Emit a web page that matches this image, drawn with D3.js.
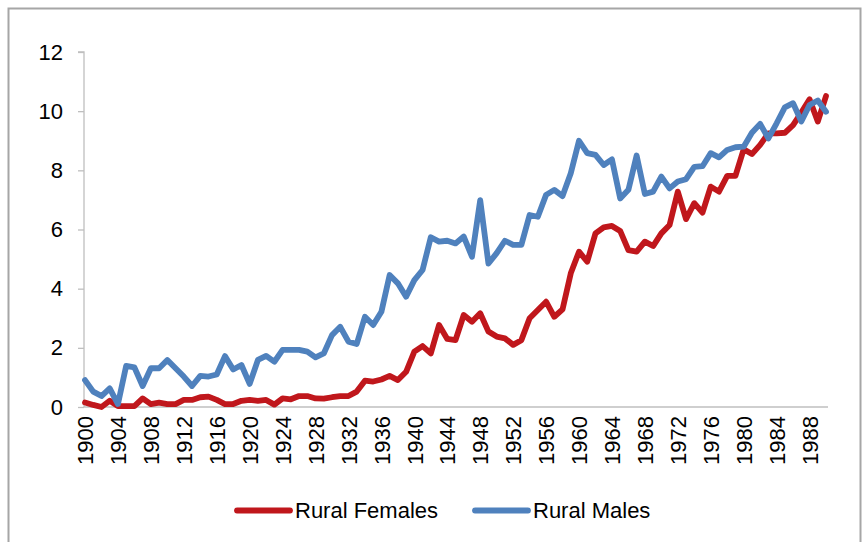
<!DOCTYPE html>
<html>
<head>
<meta charset="utf-8">
<script src="https://cdn.jsdelivr.net/npm/d3@7"></script>
<style>
  html, body { margin: 0; padding: 0; background: #fff; }
  svg { display: block; font-family: "Liberation Sans", Arial, sans-serif; }
</style>
</head>
<body>
<svg id="chart" width="862" height="542"></svg>
<script>
const years = [
  1900,1901,1902,1903,1904,1905,1906,1907,1908,1909,
  1910,1911,1912,1913,1914,1915,1916,1917,1918,1919,
  1920,1921,1922,1923,1924,1925,1926,1927,1928,1929,
  1930,1931,1932,1933,1934,1935,1936,1937,1938,1939,
  1940,1941,1942,1943,1944,1945,1946,1947,1948,1949,
  1950,1951,1952,1953,1954,1955,1956,1957,1958,1959,
  1960,1961,1962,1963,1964,1965,1966,1967,1968,1969,
  1970,1971,1972,1973,1974,1975,1976,1977,1978,1979,
  1980,1981,1982,1983,1984,1985,1986,1987,1988,1989,
  1990
];
const ruralFemales = [
  0.15,0.07,0.00,0.21,0.03,0.03,0.03,0.29,0.10,0.15,
  0.10,0.10,0.24,0.24,0.33,0.35,0.24,0.10,0.10,0.21,
  0.24,0.21,0.24,0.08,0.29,0.26,0.37,0.37,0.29,0.28,
  0.33,0.37,0.37,0.52,0.89,0.86,0.93,1.05,0.91,1.19,
  1.87,2.06,1.81,2.77,2.30,2.26,3.11,2.88,3.17,2.55,
  2.38,2.32,2.10,2.26,3.00,3.28,3.56,3.05,3.30,4.52,
  5.25,4.91,5.87,6.07,6.12,5.95,5.30,5.25,5.59,5.44,
  5.87,6.15,7.28,6.35,6.89,6.57,7.45,7.28,7.81,7.81,
  8.71,8.55,8.86,9.25,9.25,9.27,9.53,9.95,10.40,9.65,
  10.51
];
const ruralMales = [
  0.91,0.52,0.37,0.63,0.10,1.39,1.34,0.71,1.31,1.31,
  1.59,1.31,1.03,0.71,1.05,1.03,1.10,1.72,1.27,1.42,
  0.78,1.59,1.73,1.53,1.93,1.93,1.93,1.87,1.68,1.81,
  2.43,2.71,2.21,2.13,3.05,2.77,3.22,4.46,4.18,3.73,
  4.29,4.63,5.74,5.59,5.62,5.53,5.76,5.08,6.99,4.85,
  5.20,5.62,5.48,5.48,6.49,6.43,7.17,7.34,7.13,7.90,
  9.00,8.58,8.52,8.18,8.37,7.05,7.34,8.50,7.20,7.28,
  7.79,7.39,7.62,7.70,8.12,8.14,8.58,8.44,8.69,8.78,
  8.80,9.27,9.57,9.08,9.59,10.13,10.27,9.65,10.21,10.36,
  9.98
];
const yTicks = [0, 2, 4, 6, 8, 10, 12];
const xTickLabels = [1900,1904,1908,1912,1916,1920,1924,1928,1932,1936,1940,1944,1948,1952,1956,1960,1964,1968,1972,1976,1980,1984,1988];
const seriesNames = ["Rural Females", "Rural Males"];
const seriesColors = ["#c0171c", "#4f81bd"];

const svg = d3.select("#chart");

// outer frame (bottom edge lies just outside the picture)
svg.append("rect")
  .attr("x", 8.5).attr("y", 8.5)
  .attr("width", 852).attr("height", 540)
  .attr("fill", "none").attr("stroke", "#a6a6a6").attr("stroke-width", 2);

const x = d3.scaleLinear().domain([1900, 1990]).range([85, 826]);
const y = d3.scaleLinear().domain([0, 12]).range([407, 52]);

// Y axis
const yAxis = d3.axisLeft(y).tickValues(yTicks).tickSize(6).tickPadding(15).tickFormat(d3.format("d"));
const gy = svg.append("g").attr("transform", "translate(84,0)").call(yAxis);
gy.select(".domain").attr("stroke", "#bfbfbf").attr("stroke-width", 1.3).attr("d", `M-6,${y(12)}H0V${y(0)}`);
gy.selectAll(".tick line").attr("stroke", "#bfbfbf").attr("stroke-width", 1.3);
gy.selectAll(".tick text").attr("font-size", 22).attr("fill", "#000")
  .attr("font-family", "'Liberation Sans', Arial, sans-serif");

// X axis
const xAxis = d3.axisBottom(x).tickValues(xTickLabels).tickSize(0).tickFormat(d3.format("d"));
const gx = svg.append("g").attr("transform", `translate(0,${y(0)})`).call(xAxis);
gx.select(".domain").attr("stroke", "#bfbfbf").attr("stroke-width", 1.3).attr("d", `M84,0H828`);
gx.selectAll(".tick text")
  .attr("font-size", 22).attr("fill", "#000")
  .attr("font-family", "'Liberation Sans', Arial, sans-serif")
  .attr("transform", "rotate(-90)")
  .attr("text-anchor", "end")
  .attr("x", -9).attr("y", 0).attr("dy", "0.35em");

// lines
const seriesData = [ruralFemales, ruralMales];
const line = d3.line().x((d, i) => x(years[i])).y(d => y(d));
seriesData.forEach((vals, k) => {
  svg.append("path")
    .datum(vals)
    .attr("d", line)
    .attr("fill", "none")
    .attr("stroke", seriesColors[k])
    .attr("stroke-width", 5.8)
    .attr("stroke-linejoin", "round")
    .attr("stroke-linecap", "round");
});

// legend
const legendItems = [
  { x0: 237, x1: 290, tx: 295 },
  { x0: 475, x1: 528, tx: 533 }
];
const ly = 510.5;
seriesNames.forEach((name, k) => {
  const it = legendItems[k];
  svg.append("line")
    .attr("x1", it.x0).attr("x2", it.x1).attr("y1", ly).attr("y2", ly)
    .attr("stroke", seriesColors[k]).attr("stroke-width", 5.8).attr("stroke-linecap", "round");
  svg.append("text")
    .attr("x", it.tx).attr("y", ly).attr("dy", "0.35em")
    .attr("font-size", 22).attr("fill", "#000")
    .text(name);
});
</script>
</body>
</html>
